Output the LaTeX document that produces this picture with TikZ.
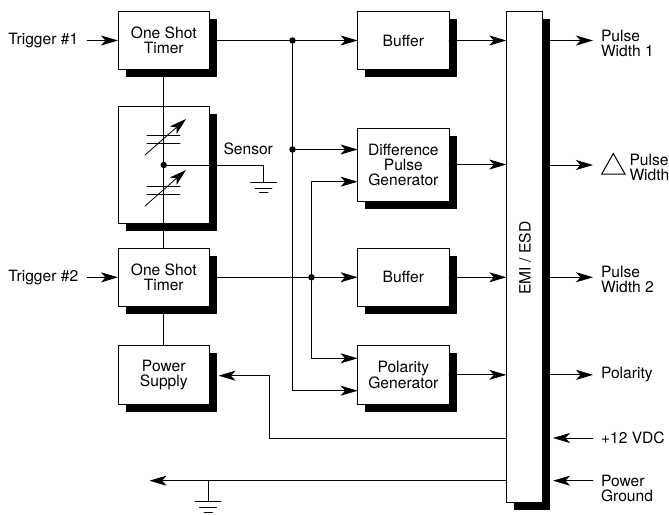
\documentclass[tikz,border=0pt]{standalone}
\usepackage{fontspec}
\setmainfont{TeX Gyre Heros}
\usetikzlibrary{arrows.meta,shadows}
\tikzset{
	block/.style={draw, fill=white, line width=1pt, outer sep=0pt, inner sep=0pt, align=center, minimum width=91.5pt,
		general shadow={shadow xshift=7.5pt, shadow yshift=-7.5pt, fill=black}},
	label/.style={inner sep=0pt, outer sep=0pt, align=left},
	dot/.style={circle, fill=black, inner sep=0pt, outer sep=0pt, minimum size=6.5pt},
	wire/.style={line width=0.8pt},
	sig/.style={wire, -{Stealth[length=17pt, width=10pt, inset=4.5pt]}}
}
\begin{document}
\begin{tikzpicture}[x=1pt, y=-1pt, line cap=round, line join=miter, font=\fontsize{15.6}{15}\selectfont]
	\useasboundingbox (0,0) rectangle (669,514);
	% blocks
	\node[block, minimum height=58pt] (shotA) at (163.75,40.5) {One Shot\\Timer};
	\node[block, minimum height=117.5pt] (sensor) at (163.75,164.75) {};
	\node[block, minimum height=58.5pt] (shotB) at (163.75,277.25) {One Shot\\Timer};
	\node[block, minimum height=58.3pt] (power) at (163.75,374.85) {Power\\Supply};
	\node[block, minimum height=58pt] (bufA) at (403.35,40.5) {Buffer};
	\node[block, minimum height=73pt] (diff) at (403.35,164.5) {Difference\\Pulse\\Generator};
	\node[block, minimum height=58.5pt] (bufB) at (403.35,277.25) {Buffer};
	\node[block, minimum height=58.3pt] (pol) at (403.35,374.85) {Polarity\\Generator};
	\node[block, minimum width=36.4pt, minimum height=490.8pt] (emi) at (524.5,256.9) {};
	\node[rotate=90, inner sep=0pt] (emitxt) at (525,258) {EMI / ESD};
	% labels
	\node[label, anchor=west] (trigA) at (8.5,40.5) {Trigger \#1};
	\node[label, anchor=west] (trigB) at (8.5,277.5) {Trigger \#2};
	\node[label, anchor=west] (senslbl) at (223.5,149) {Sensor};
	\node[label, anchor=west] (pwA) at (601,43) {Pulse\\Width 1};
	\node[label, anchor=west] (pwD) at (629.5,167) {Pulse\\Width};
	\node[label, anchor=west] (pwB) at (601,279) {Pulse\\Width 2};
	\node[label, anchor=west] (pollbl) at (601,374.5) {Polarity};
	\node[label, anchor=west] (vdc) at (601,438) {+12 VDC};
	\node[label, anchor=west] (pgnd) at (601,488) {Power\\Ground};
	% junctions
	\coordinate (tipA) at (593,40.5);
	\coordinate (tipD) at (593,165);
	\coordinate (tipB) at (593,277.25);
	\coordinate (tipP) at (593,374.85);
	\coordinate (inV) at (593,438);
	\coordinate (inG) at (593,480.7);
	\node[dot] (jA) at (292.5,40.5) {};
	\node[dot] (jD) at (292.5,149.5) {};
	\node[dot] (jB) at (311.5,277.25) {};
	\node[dot] (jS) at (163.75,165) {};
	\coordinate (gndS) at (263.5,182.5);
	\coordinate (gndP) at (208,501.7);
	% signal wires
	\draw[sig] (trigA.east)++(9,0) -- (shotA.west);
	\draw[sig] (trigB.east)++(9,0) -- (shotB.west);
	\draw[sig] (shotA.east) -- (bufA.west);
	\draw[sig] (jD) -- (jD -| diff.west);
	\draw[sig] (shotB.east) -- (bufB.west);
	\draw[sig] (jB |- 0,181.7) -- (diff.west |- 0,181.7);
	\draw[sig] (jB |- 0,358.3) -- (pol.west |- 0,358.3);
	\draw[sig] (jA |- 0,390.7) -- (pol.west |- 0,390.7);
	\draw[wire] (jA) -- (jA |- 0,390.7);
	\draw[wire] (jB |- 0,181.7) -- (jB |- 0,358.3);
	\draw[sig] (bufA.east) -- (emi.west |- bufA.east);
	\draw[sig] (diff.east) -- (emi.west |- diff.east);
	\draw[sig] (bufB.east) -- (emi.west |- bufB.east);
	\draw[sig] (pol.east) -- (emi.west |- pol.east);
	\draw[sig] (emi.east |- tipA) -- (tipA);
	\draw[sig] (emi.east |- tipD) -- (tipD);
	\draw[sig] (emi.east |- tipB) -- (tipB);
	\draw[sig] (emi.east |- tipP) -- (tipP);
	\draw[sig] (inV) -- ++(-40,0);
	\draw[sig] (inG) -- ++(-40,0);
	\draw[sig] (emi.west |- 0,438) -| (269,375.7) -- (218.5,375.7);
	\draw[sig] (emi.west |- inG) -- (149.5,480.7);
	% supply and sensor
	\draw[wire] (shotA.south) -- (shotB.north) (shotB.south) -- (power.north);
	\draw[wire] (jS) -| (gndS);
	\draw[wire] (gndP |- inG) -- (gndP);
	\draw[wire]
	(gndS)++(-13,0) -- ++(26,0) (gndS)++(-8.5,5.5) -- ++(17,0) (gndS)++(-4,10) -- ++(8.5,0)
	(gndP)++(-13,0) -- ++(26,0) (gndP)++(-8.5,5.5) -- ++(17,0) (gndP)++(-4,10.5) -- ++(8.5,0);
	% variable capacitors
	\draw[wire] (147,135) -- (180,135) (147,143) -- (180,143) (147,186) -- (180,186) (147,194) -- (180,194);
	\draw[wire, -{Stealth[length=17pt, width=10pt, inset=4.5pt]}] (145,155) -- (186,119);
	\draw[wire, -{Stealth[length=17pt, width=10pt, inset=4.5pt]}] (145,206) -- (186,170);
	% delta
	\draw[line width=1pt] (601.7,174) -- (625,174) -- (613.3,153.5) -- cycle;
\end{tikzpicture}
\end{document}
